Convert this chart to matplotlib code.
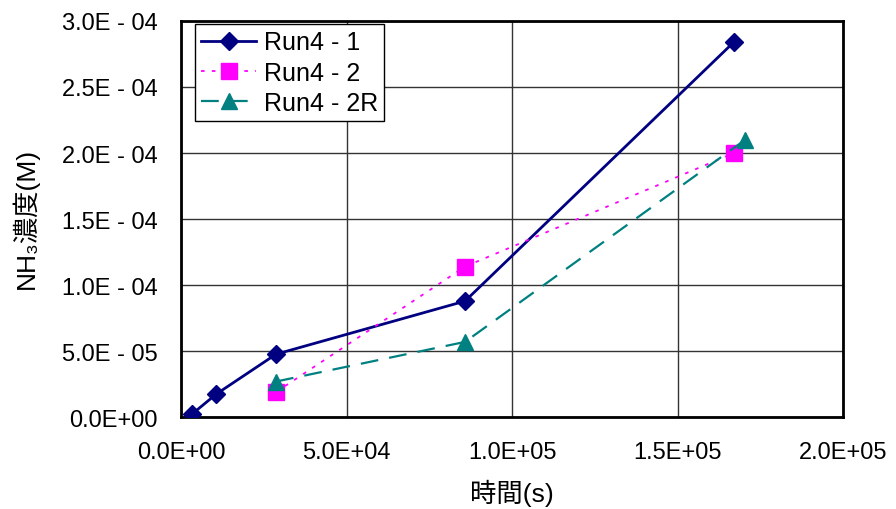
import matplotlib
matplotlib.use("Agg")
import matplotlib.pyplot as plt

plt.rcParams['font.family'] = ['Liberation Sans', 'Noto Sans CJK JP', 'DejaVu Sans']

run41_x = [3.3e3, 10.6e3, 28.7e3, 85.8e3, 167e3]
run41_y = [2.3e-6, 1.74e-5, 4.77e-5, 8.79e-5, 2.84e-4]
run42_x = [28.7e3, 85.8e3, 167e3]
run42_y = [1.9e-5, 1.14e-4, 2.0e-4]
run42r_x = [28.7e3, 85.8e3, 170.4e3]
run42r_y = [2.7e-5, 5.7e-5, 2.1e-4]

xticks = [0, 5e4, 1e5, 1.5e5, 2e5]
xticklabels = ["0.0E+00", "5.0E+04", "1.0E+05", "1.5E+05", "2.0E+05"]
yticks = [0, 5e-5, 1e-4, 1.5e-4, 2e-4, 2.5e-4, 3e-4]
yticklabels = ["0.0E+00", "5.0E - 05", "1.0E - 04", "1.5E - 04", "2.0E - 04", "2.5E - 04", "3.0E - 04"]
series_labels = ["Run4 - 1", "Run4 - 2", "Run4 - 2R"]

fig = plt.figure(figsize=(8.96, 5.10), dpi=100)
ax = fig.add_axes([0.202, 0.180, 0.739, 0.777])

ax.plot(run41_x, run41_y, color='#000080', lw=2, marker='D', ms=9, label=series_labels[0], zorder=3)
ax.plot(run42_x, run42_y, color='#FF00FF', lw=1.3, ls=(0, (2, 4)), marker='s', ms=12, label=series_labels[1], zorder=3)
ax.plot(run42r_x, run42r_y, color='#008080', lw=1.6, ls=(0, (8, 5)), marker='^', ms=12, label=series_labels[2], zorder=3)

ax.set_xlim(0, 2e5)
ax.set_ylim(0, 3e-4)
ax.set_xticks(xticks)
ax.set_xticklabels(xticklabels, fontsize=17)
ax.set_yticks(yticks)
ax.set_yticklabels(yticklabels, fontsize=17)
ax.grid(True, color='#333333', lw=1)
ax.set_axisbelow(True)
for s in ax.spines.values():
    s.set_linewidth(2)
    s.set_color('black')
ax.tick_params(axis='x', length=0, pad=17)
ax.tick_params(axis='y', length=0, pad=17)

ax.set_xlabel('時間(s)', fontsize=19)
ax.xaxis.set_label_coords(0.5, -0.155)
ax.set_ylabel('NH₃濃度(M)', fontsize=19)
ax.yaxis.set_label_coords(-0.214, 0.505)

leg = ax.legend(loc='upper left', bbox_to_anchor=(0.021, 0.992), fontsize=18,
                frameon=True, fancybox=False, edgecolor='black', framealpha=1,
                handlelength=2.2, borderpad=0.25, labelspacing=0.25, handletextpad=0.3,
                borderaxespad=0)
leg.get_frame().set_linewidth(1)

fig.savefig('out.png', dpi=100)
